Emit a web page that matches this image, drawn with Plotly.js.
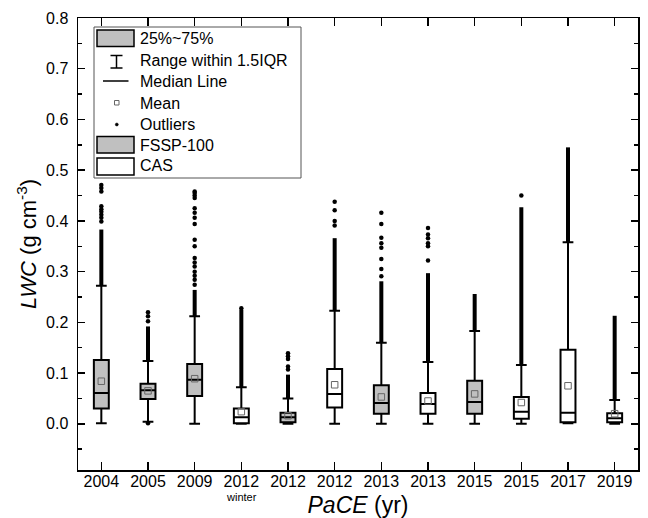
<!DOCTYPE html>
<html>
<head>
<meta charset="utf-8">
<script src="https://cdn.plot.ly/plotly-3.0.1.min.js"></script>
<style>html,body{margin:0;padding:0;background:#fff;}#chart{width:648px;height:518px;}</style>
</head>
<body>
<div id="chart"></div>
<script>
// ---- data (LWC, g cm^-3) ----
const yearLabels = ["2004","2005","2009","2012","2012","2012","2013","2013","2015","2015","2017","2019"];
const instrument = ["FSSP-100","FSSP-100","FSSP-100","CAS","FSSP-100","CAS","FSSP-100","CAS","FSSP-100","CAS","CAS","CAS"];
const q1Values     = [0.030, 0.049, 0.055, 0.001, 0.003, 0.032, 0.020, 0.020, 0.020, 0.010, 0.003, 0.003];
const medianValues = [0.061, 0.066, 0.087, 0.013, 0.013, 0.059, 0.041, 0.039, 0.043, 0.024, 0.022, 0.011];
const q3Values     = [0.126, 0.079, 0.118, 0.030, 0.022, 0.108, 0.076, 0.061, 0.085, 0.053, 0.146, 0.021];
const meanValues   = [0.084, 0.065, 0.089, 0.024, 0.016, 0.077, 0.053, 0.045, 0.059, 0.042, 0.075, 0.020];
const lowerWhisker = [0.001, 0.004, 0.000, 0.000, 0.000, 0.000, 0.000, 0.000, 0.000, 0.000, 0.001, 0.000];
const upperWhisker = [0.272, 0.124, 0.212, 0.072, 0.050, 0.223, 0.160, 0.122, 0.183, 0.116, 0.358, 0.047];
// dense runs of outliers (from..to) and isolated outliers
const outlierDenseFrom = [0.272, 0.124, 0.212, 0.072, 0.050, 0.223, 0.160, 0.122, 0.183, 0.116, 0.358, 0.047];
const outlierDenseTo   = [0.383, 0.192, 0.264, 0.225, 0.097, 0.366, 0.281, 0.297, 0.256, 0.427, 0.545, 0.213];
const outlierSparse = [
  [0.399, 0.406, 0.412, 0.418, 0.423, 0.429, 0.458, 0.465, 0.471],
  [0.202, 0.212, 0.220, 0.001],
  [0.274, 0.284, 0.292, 0.300, 0.310, 0.318, 0.327, 0.350, 0.363, 0.394, 0.406, 0.416, 0.425, 0.445, 0.450, 0.455, 0.458],
  [0.228],
  [0.107, 0.113, 0.128, 0.133, 0.139],
  [0.391, 0.400, 0.421, 0.438],
  [0.291, 0.305, 0.325, 0.347, 0.356, 0.367, 0.394, 0.416],
  [0.322, 0.350, 0.356, 0.366, 0.373, 0.386],
  [],
  [0.450],
  [],
  []
];
const subLabel = {index: 3, text: "winter"};

// ---- traces ----
const font = "Liberation Sans, Arial, sans-serif";
const pos = yearLabels.map((_, i) => i);
function boxTrace(kind, fill) {
  const idx = pos.filter(i => instrument[i] === kind);
  return {
    type: "box", name: kind, showlegend: false,
    x: idx, q1: idx.map(i => q1Values[i]), median: idx.map(i => medianValues[i]),
    q3: idx.map(i => q3Values[i]), lowerfence: idx.map(i => lowerWhisker[i]),
    upperfence: idx.map(i => upperWhisker[i]),
    width: 0.32, whiskerwidth: 0.72, boxpoints: false,
    fillcolor: fill, line: {color: "#000", width: 2}, hoverinfo: "skip"
  };
}
const denseX = [], denseY = [];
pos.forEach(i => { denseX.push(i, i, null); denseY.push(outlierDenseFrom[i], outlierDenseTo[i], null); });
const dotX = [], dotY = [];
pos.forEach(i => outlierSparse[i].forEach(v => { dotX.push(i); dotY.push(v); }));

const traces = [
  {type: "scatter", mode: "lines", x: denseX, y: denseY, line: {color: "#000", width: 4}, showlegend: false, hoverinfo: "skip"},
  {type: "scatter", mode: "markers", x: dotX, y: dotY, marker: {color: "#000", size: 4.5, symbol: "circle"}, showlegend: false, hoverinfo: "skip"},
  boxTrace("FSSP-100", "#c0c0c0"),
  boxTrace("CAS", "#ffffff"),
  {type: "scatter", mode: "markers", x: pos, y: meanValues, marker: {symbol: "square-open", size: 6.5, color: "#666", line: {width: 1}}, showlegend: false, hoverinfo: "skip"}
];

// ---- custom legend (pixel helper -> paper) ----
const L = 78, R = 638, T = 18, B = 470;
const px = x => (x - L) / (R - L);
const py = y => (B - y) / (B - T);
const shapes = [], annotations = [];
function rectP(x0, y0, x1, y1, fill, lc, lw) {
  shapes.push({type: "rect", xref: "paper", yref: "paper", x0: px(x0), x1: px(x1), y0: py(y1), y1: py(y0),
    fillcolor: fill, line: {color: lc, width: lw}, layer: "above"});
}
function lineP(x0, y0, x1, y1, w) {
  shapes.push({type: "line", xref: "paper", yref: "paper", x0: px(x0), x1: px(x1), y0: py(y0), y1: py(y1), line: {color: "#000", width: w}, layer: "above"});
}
function textP(x, y, t) {
  annotations.push({xref: "paper", yref: "paper", x: px(x), y: py(y), text: t, showarrow: false, xanchor: "left", yanchor: "middle", font: {family: font, size: 16, color: "#000"}});
}
rectP(94, 27, 301, 178, "#fff", "#555", 1);
rectP(97, 30, 134, 46.5, "#c0c0c0", "#000", 1.5); textP(138, 38.5, "25%~75%");
lineP(116.5, 55.5, 116.5, 68, 1.5); lineP(110.5, 55.5, 122.5, 55.5, 1.5); lineP(110.5, 68, 122.5, 68, 1.5); textP(138, 61, "Range within 1.5IQR");
lineP(103, 81, 128.5, 81, 1.5); textP(138, 81.5, "Median Line");
rectP(114.5, 100.5, 119, 105, "#fff", "#666", 1); textP(138, 103, "Mean");
shapes.push({type: "circle", xref: "paper", yref: "paper", x0: px(115.3), x1: px(118.3), y0: py(126), y1: py(123), fillcolor: "#000", line: {color: "#000", width: 0.5}, layer: "above"});
textP(138, 124.5, "Outliers");
rectP(97, 136.5, 134, 153, "#c0c0c0", "#000", 1.5); textP(138, 145, "FSSP-100");
rectP(97, 158, 134, 175, "#fff", "#000", 1.5); textP(138, 166, "CAS");

annotations.push({xref: "x", yref: "paper", x: subLabel.index, y: py(496.5), text: subLabel.text, showarrow: false, xanchor: "center", yanchor: "middle", font: {family: font, size: 11, color: "#000"}});

const layout = {
  width: 648, height: 518,
  margin: {l: L, r: 648 - R, t: T, b: 518 - B},
  paper_bgcolor: "#fff", plot_bgcolor: "#fff",
  boxmode: "overlay",
  font: {family: font, size: 16, color: "#000"},
  xaxis: {
    range: [-0.5, 11.5], tickmode: "array", tickvals: pos, ticktext: yearLabels,
    ticks: "inside", ticklen: 8, tickwidth: 1.5, tickcolor: "#000", ticklabelstandoff: -4,
    showline: true, linecolor: "#000", linewidth: 1.5, mirror: "ticks",
    showgrid: false, zeroline: false, tickfont: {family: font, size: 16},
    title: {text: "<i>PaCE</i> (yr)", font: {family: font, size: 23}, standoff: 25}
  },
  yaxis: {
    range: [-0.091, 0.8], tickmode: "linear", tick0: 0, dtick: 0.1, tickformat: ".1f",
    ticks: "inside", ticklen: 7, tickwidth: 1.5, tickcolor: "#000", ticklabelstandoff: 5,
    minor: {dtick: 0.05, ticks: "inside", ticklen: 4, tickwidth: 1.5, tickcolor: "#000", showgrid: false},
    showline: true, linecolor: "#000", linewidth: 1.5, mirror: "ticks",
    showgrid: false, zeroline: false, tickfont: {family: font, size: 16},
    title: {text: "<i>LWC</i> (g cm<sup>-3</sup>)", font: {family: font, size: 22}, standoff: 3}
  },
  shapes: shapes, annotations: annotations
};
Plotly.newPlot("chart", traces, layout, {displayModeBar: false, staticPlot: true});
</script>
</body>
</html>
